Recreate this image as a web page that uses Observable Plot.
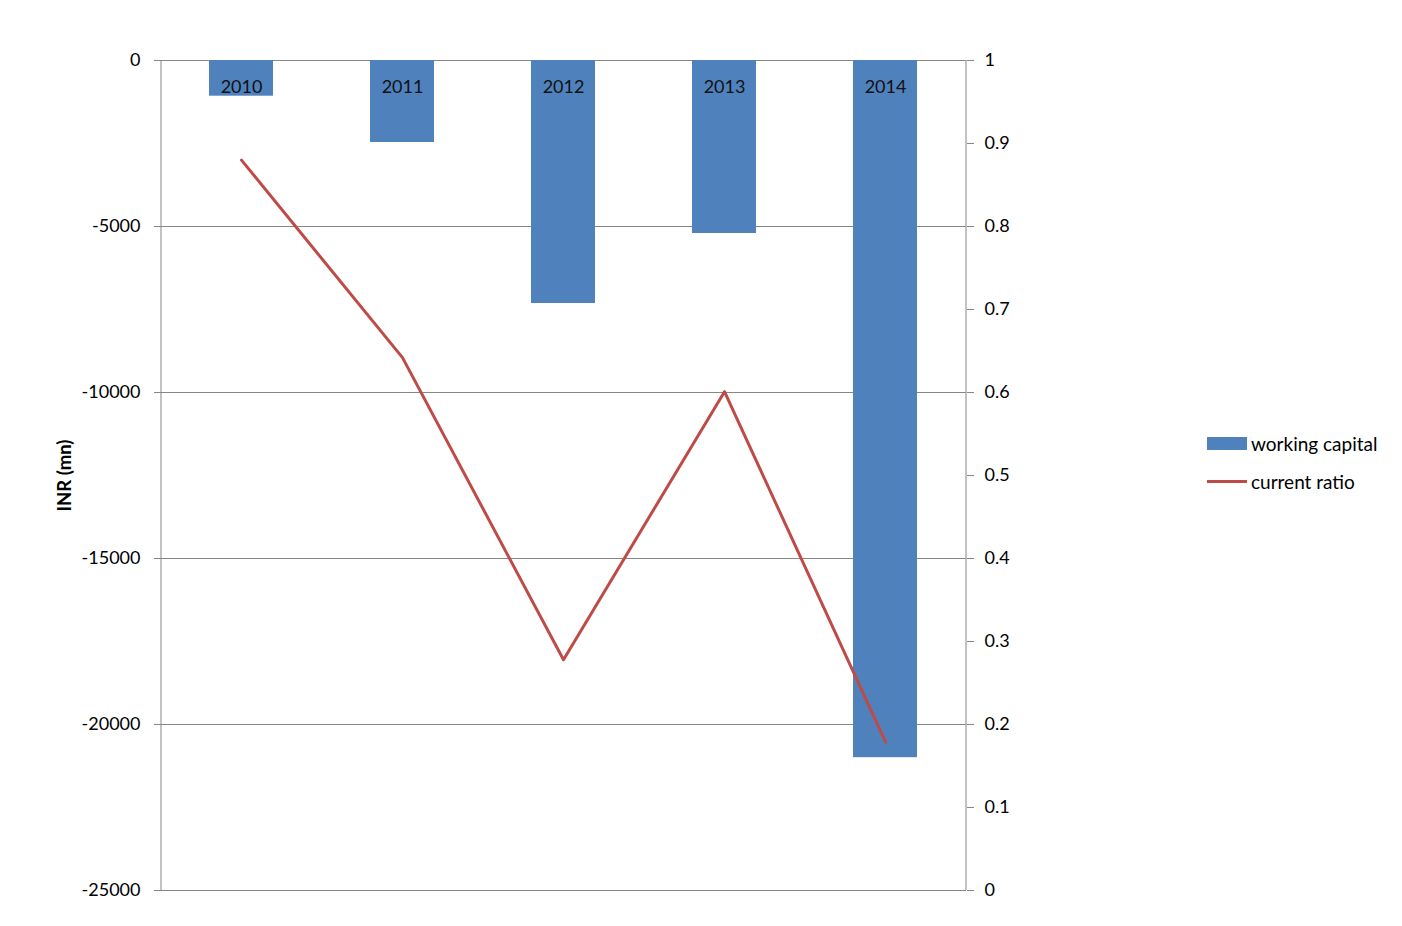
<!DOCTYPE html>
<html>
<head>
<meta charset="utf-8">
<script src="https://cdn.jsdelivr.net/npm/d3@7"></script>
<script src="https://cdn.jsdelivr.net/npm/@observablehq/plot@0.6"></script>
<style>
  html, body { margin: 0; padding: 0; background: #fff; }
  #wrap { position: relative; width: 1402px; height: 926px; font-family: Lato, "Open Sans", sans-serif; }
  #wrap svg { font-family: Lato, "Open Sans", sans-serif; }
  g[aria-label="y-axis label"] text { font-weight: bold; font-size: 18.5px; }
  .legend { position: absolute; left: 1207px; top: 430px; font-size: 19px; color: #000; }
  .legend .row { display: flex; align-items: center; height: 27px; margin-bottom: 11px; }
  .legend .sw { width: 40px; margin-right: 4px; }
</style>
</head>
<body>
<div id="wrap"></div>
<script>
const years = ["2010", "2011", "2012", "2013", "2014"];
const workingCapital = [-1075, -2470, -7320, -5210, -21000];
const currentRatio = [0.88, 0.642, 0.278, 0.601, 0.179];
const leftTicks = [0, -5000, -10000, -15000, -20000, -25000];
const rightTicks = [0, 0.1, 0.2, 0.3, 0.4, 0.5, 0.6, 0.7, 0.8, 0.9, 1];
const seriesNames = ["working capital", "current ratio"];
const colors = ["#4F81BD", "#BE4B48"];

// map right axis (0..1) onto left scale (-25000..0)
const r2l = d3.scaleLinear().domain([0, 1]).range([-25000, 0]);

const data = years.map((y, i) => ({year: y, wc: workingCapital[i], cr: currentRatio[i], crL: r2l(currentRatio[i])}));

const grid = "#868686";

const chart = Plot.plot({
  width: 1402,
  height: 926,
  marginLeft: 161,
  marginRight: 436,
  marginTop: 60,
  marginBottom: 36,
  x: {domain: years, paddingInner: 0.6, paddingOuter: 0.3, axis: null},
  y: {domain: [-25000, 0]},
  marks: [
    Plot.gridY(leftTicks, {stroke: grid, strokeOpacity: 1, strokeWidth: 1}),
    Plot.barY(data, {x: "year", y: "wc", fill: colors[0]}),
    Plot.axisY(leftTicks, {anchor: "left", tickSize: 7, tickPadding: 14, stroke: grid, fontSize: 18, fill: "#000",
      tickFormat: d => String(d).replace("\u2212", "-"),
      label: "INR (mn)", labelAnchor: "center", labelArrow: "none", labelOffset: 104}),
    Plot.axisY(rightTicks.map(r2l), {anchor: "right", tickSize: 7, tickPadding: 11, stroke: grid, fontSize: 18, fill: "#000",
      tickFormat: d => String(+r2l.invert(d).toFixed(1)), label: null}),
    Plot.text(data, {x: "year", y: () => 0, text: "year", dy: 27, fontSize: 18, fill: "#111"}),
    Plot.line(data, {x: "year", y: "crL", stroke: colors[1], strokeWidth: 3}),
  ]
});

// axis lines left and right
const svg = d3.select(chart);
svg.append("line").attr("x1", 161).attr("x2", 161).attr("y1", 60).attr("y2", 890).attr("stroke", grid);
svg.append("line").attr("x1", 966).attr("x2", 966).attr("y1", 60).attr("y2", 890).attr("stroke", grid);

const wrap = document.getElementById("wrap");
wrap.appendChild(chart);

const legend = document.createElement("div");
legend.className = "legend";
legend.innerHTML = `
  <div class="row"><div class="sw" style="height:13px;background:${colors[0]}"></div>${seriesNames[0]}</div>
  <div class="row"><div class="sw" style="height:3px;background:${colors[1]}"></div>${seriesNames[1]}</div>`;
wrap.appendChild(legend);
</script>
</body>
</html>
